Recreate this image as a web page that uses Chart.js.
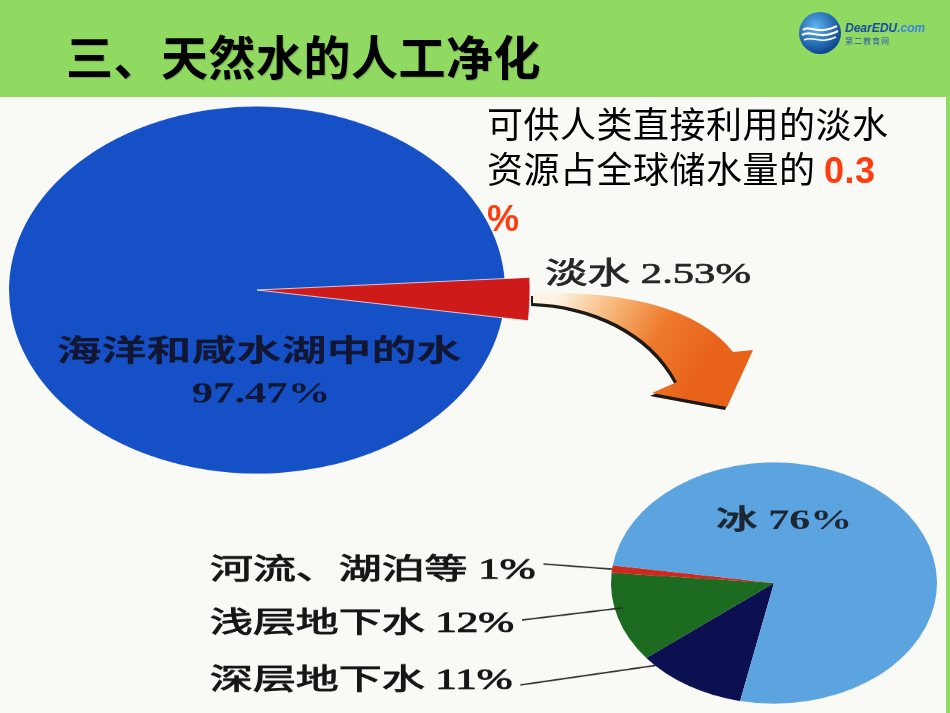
<!DOCTYPE html>
<html lang="zh-CN">
<head>
<meta charset="utf-8">
<title>三、天然水的人工净化</title>
<script src="https://cdn.jsdelivr.net/npm/chart.js"></script>
<style>
  html, body { margin: 0; padding: 0; }
  body {
    width: 950px; height: 713px; overflow: hidden; position: relative;
    background: #f9f9f6;
    font-family: 'Noto Sans CJK SC', 'Noto Sans', sans-serif;
  }
  .band { position: absolute; left: 0; top: 0; width: 950px; height: 97px; background: #91da62; }
  .edge { position: absolute; left: 946px; top: 97px; width: 4px; height: 616px; background: #91da62; }
  h1 {
    position: absolute; left: 66px; top: 30px; margin: 0;
    font-size: 47px; line-height: 50px; font-weight: bold; letter-spacing: 0.5px;
    color: #000; text-shadow: 1px 1px 1px rgba(0,0,0,0.2); z-index: 3;
  }
  .note {
    position: absolute; left: 487px; top: 100px; z-index: 3;
    font-size: 36px; line-height: 45px; letter-spacing: 0.5px; color: #000;
  }
  .note .hl { color: #ff3b0f; font-family: 'Liberation Sans', Arial, sans-serif; font-weight: bold; }
  .logo { position: absolute; left: 798px; top: 11px; z-index: 3; }
  .logo .name {
    position: absolute; left: 47px; top: 10px; white-space: nowrap;
    font: italic bold 12px 'Liberation Sans', Arial, sans-serif; color: #1a4f9e;
  }
  .logo .name span { color: #3b8ad8; }
  .logo .sub {
    position: absolute; left: 47px; top: 24px; white-space: nowrap;
    font-size: 8px; color: #2a5ea8; letter-spacing: 1px;
  }
  canvas { position: absolute; z-index: 1; }
  #oceanPie { left: -3px; top: 30px; transform: scaleY(0.74); }
  #freshSlice { left: -23px; top: 10px; z-index: 2; }
  #freshPie { left: 190px; top: 413px; transform: scaleY(0.74); }
</style>
</head>
<body>
<div class="band"></div>
<div class="edge"></div>
<h1>三、天然水的人工净化</h1>

<div class="logo">
  <svg width="44" height="44" viewBox="0 0 44 44">
    <defs>
      <radialGradient id="lg" cx="40%" cy="35%" r="65%">
        <stop offset="0" stop-color="#5db4f0"/>
        <stop offset="1" stop-color="#0c4790"/>
      </radialGradient>
    </defs>
    <circle cx="22" cy="22" r="21" fill="url(#lg)"/>
    <path d="M5 19 C12 13 18 25 39 15" stroke="#fff" stroke-width="2.2" fill="none"/>
    <path d="M4 24 C13 18 20 30 40 20" stroke="#fff" stroke-width="2.2" fill="none"/>
    <path d="M6 29 C14 24 22 34 38 26" stroke="#fff" stroke-width="1.6" fill="none"/>
  </svg>
  <div class="name">DearEDU<span>.com</span></div>
  <div class="sub">第二教育网</div>
</div>

<div class="note">可供人类直接利用的淡水<br>资源占全球储水量的 <span class="hl">0.3</span><br><span class="hl">%</span></div>

<canvas id="oceanPie" width="520" height="520"></canvas>
<canvas id="freshSlice" width="800" height="560"></canvas>
<canvas id="freshPie" width="760" height="340"></canvas>

<script>
// global water: fresh vs salt
const globalLabels = ['淡水', '海洋和咸水湖中的水'];
const globalValues = [2.53, 97.47];

// how the fresh water is split
const freshLabels = ['深层地下水', '浅层地下水', '河流、湖泊等', '冰'];
const freshValues = [11, 12, 1, 76];

const globalColors = ['#cf1a1a', '#1650c6'];
const freshColors = ['#0c1050', '#1d6a21', '#d0281c', '#5ca4df'];

// the scanned figure is squashed vertically / stretched sideways
const SQUASH = 0.74;
const SERIF = "'Liberation Serif', 'Noto Sans CJK SC', serif";

const pct = v => v + '%';

function wideText(ctx, text, x, y, size, sx, ys, weight, color, align, thicken) {
  ctx.save();
  ctx.translate(x, y);
  ctx.scale(sx, 1 / ys);
  ctx.font = `${weight} ${size}px ${SERIF}`;
  ctx.fillStyle = color;
  ctx.textAlign = align;
  ctx.textBaseline = 'middle';
  ctx.fillText(text, 0, 0);
  if (thicken) {
    // scanned print is a bit heavier than the regular face
    ctx.strokeStyle = color;
    ctx.lineWidth = thicken;
    ctx.strokeText(text, 0, 0);
  }
  const w = ctx.measureText(text).width * sx;
  ctx.restore();
  return w;
}

const base = {
  responsive: false,
  animation: false,
  events: [],
  plugins: { legend: { display: false }, tooltip: { enabled: false } }
};

// big pie (blue ellipse)
new Chart(document.getElementById('oceanPie'), {
  type: 'pie',
  data: {
    labels: globalLabels,
    datasets: [{ data: globalValues, backgroundColor: globalColors, borderWidth: 0 }]
  },
  options: { ...base, radius: 248, rotation: 87.35 },
  plugins: [{
    id: 'oceanLabel',
    afterDatasetsDraw(chart) {
      const arc = chart.getDatasetMeta(0).data[1];
      const ctx = chart.ctx;
      wideText(ctx, globalLabels[1], arc.x + 2, arc.y + 63 / SQUASH, 30, 1.5, SQUASH, 'bold', '#111633', 'center');
      wideText(ctx, pct(globalValues[1]), arc.x + 4, arc.y + 105 / SQUASH, 30, 1.42, SQUASH, 'bold', '#111633', 'center');
    }
  }]
});

// the fresh-water wedge sticking out of the big pie, plus the arrow
new Chart(document.getElementById('freshSlice'), {
  type: 'pie',
  data: {
    labels: globalLabels,
    datasets: [{
      data: globalValues,
      backgroundColor: [globalColors[0], 'rgba(0,0,0,0)'],
      borderColor: 'rgba(255,255,255,0.7)',
      borderWidth: [1, 0]
    }]
  },
  options: { ...base, radius: 273, rotation: 87.35, layout: { padding: { right: 240 } } },
  plugins: [{
    id: 'freshArrow',
    afterDatasetsDraw(chart) {
      const arc = chart.getDatasetMeta(0).data[0];
      const ctx = chart.ctx;
      // offsets measured from the pie centre
      const p = (dx, dy) => [arc.x + dx, arc.y + dy];
      const path = (sx, sy) => {
        const q = (dx, dy) => p(dx + sx, dy + sy);
        ctx.beginPath();
        ctx.moveTo(...q(276, 3));
        ctx.bezierCurveTo(...q(383, 0), ...q(448, 25), ...q(476, 62));
        ctx.lineTo(...q(496, 60));
        ctx.lineTo(...q(470, 117));
        ctx.lineTo(...q(395, 103));
        ctx.lineTo(...q(420, 92));
        ctx.bezierCurveTo(...q(393, 40), ...q(333, 15), ...q(276, 13));
        ctx.closePath();
      };
      ctx.save();
      path(-2, 3);
      ctx.fillStyle = '#1e1a16';
      ctx.fill();
      const g = ctx.createLinearGradient(...p(300, 8), ...p(440, 90));
      g.addColorStop(0, '#fdf3e2');
      g.addColorStop(0.35, '#f5b272');
      g.addColorStop(0.65, '#ee7a2c');
      g.addColorStop(1, '#e8621a');
      path(0, 0);
      ctx.fillStyle = g;
      ctx.fill();
      ctx.restore();

      wideText(ctx, `${globalLabels[0]} ${pct(globalValues[0])}`, arc.x + 288, arc.y - 15,
        30, 1.42, 1, 'normal', '#262626', 'left', 0.7);
    }
  }]
});

// small pie: fresh water breakdown
new Chart(document.getElementById('freshPie'), {
  type: 'pie',
  data: {
    labels: freshLabels,
    datasets: [{ data: freshValues, backgroundColor: freshColors, borderWidth: 0 }]
  },
  options: { ...base, radius: 163, rotation: 192, layout: { padding: { left: 408 } } },
  plugins: [{
    id: 'freshLabels',
    afterDatasetsDraw(chart) {
      const arcs = chart.getDatasetMeta(0).data;
      const ctx = chart.ctx;
      const cx = arcs[0].x, cy = arcs[0].y;

      wideText(ctx, `${freshLabels[3]} ${pct(freshValues[3])}`, cx + 10, cy - 61 / SQUASH,
        28, 1.5, SQUASH, 'bold', '#1d2733', 'center');

      // left-hand labels with leader lines: [index, label y, line y, angle t, radius r]
      const rows = [[2, -12, -19, 0.5, 1.0], [1, 41, 37, 0.6, 0.95], [0, 98, 102, 0.88, 1.0]];
      rows.forEach(([i, ly, lineY, t, r]) => {
        const w = wideText(ctx, `${freshLabels[i]} ${pct(freshValues[i])}`, cx - 564, cy + ly / SQUASH,
          29, 1.48, SQUASH, 'normal', '#161616', 'left', 0.9);
        const a = arcs[i];
        const ang = a.startAngle + t * (a.endAngle - a.startAngle);
        ctx.beginPath();
        ctx.moveTo(cx - 564 + w + 8, cy + lineY / SQUASH);
        ctx.lineTo(a.x + Math.cos(ang) * a.outerRadius * r, a.y + Math.sin(ang) * a.outerRadius * r);
        ctx.strokeStyle = '#2a2a2a';
        ctx.lineWidth = 2;
        ctx.stroke();
      });
    }
  }]
});
</script>
</body>
</html>
